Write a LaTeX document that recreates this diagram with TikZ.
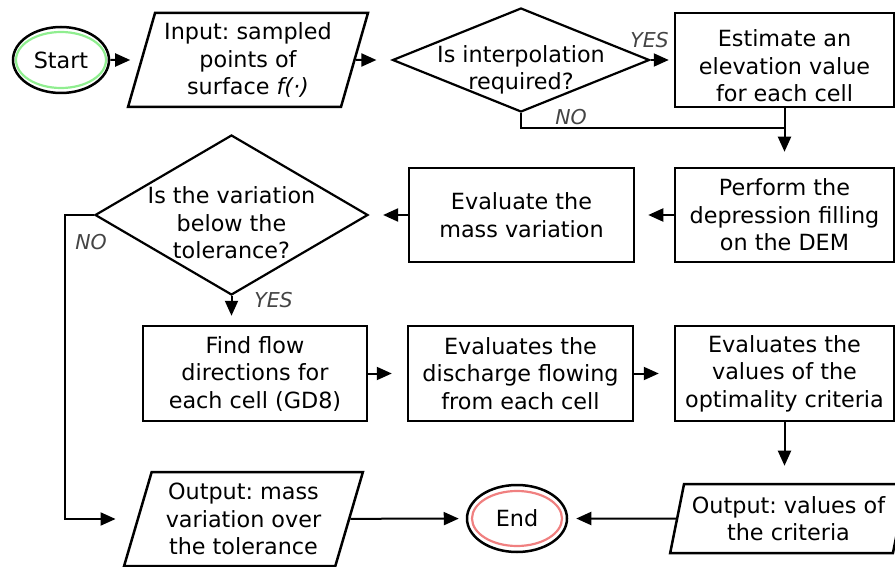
\documentclass[tikz,border=0pt]{standalone}
\usepackage{fontspec}
\setmainfont{DejaVu Sans}
\usetikzlibrary{shapes.geometric,arrows.meta}

\definecolor{startgreen}{RGB}{144,238,144}
\definecolor{endred}{RGB}{240,128,128}
\definecolor{anscol}{RGB}{68,68,68}

\tikzset{
  txt/.style={font=\fontsize{22.3pt}{27.5pt}\selectfont\frenchspacing, align=center, inner sep=0pt},
  process/.style={txt, draw, line width=2.5pt, rectangle, minimum width=219pt, minimum height=94pt},
  io/.style={txt, draw, line width=2.5pt, trapezium, trapezium left angle=72, trapezium right angle=108, trapezium stretches=true, minimum height=94pt},
  decision/.style={txt, draw, line width=2.2pt, diamond, inner xsep=-50pt, inner ysep=-10pt},
  terminal/.style={txt, draw, line width=2.5pt, ellipse, minimum width=96pt, minimum height=66pt},
  ring/.style={line width=2.2pt},
  answer/.style={font=\fontsize{20.5pt}{24pt}\selectfont\itshape, text=anscol, inner sep=0pt},
  flow/.style={-{Triangle[length=15pt,width=13pt]}, line width=2pt},
}

\begin{document}
\begin{tikzpicture}[x=1pt,y=-1pt]
\useasboundingbox (0,0) rectangle (895,567);

% first row
\node[terminal] (start) at (61,60) {Start};
\draw[ring, startgreen] (start.center) ellipse [x radius=45pt, y radius=28pt];
\node[io, minimum width=240pt] (input) at (248,60) {Input: sampled\\points of\\surface \textit{f(·)}};
\node[decision, shape aspect=2.5, minimum width=257pt, minimum height=104pt] (interp) at (521,60) {\rule{0pt}{37pt}Is interpolation\\required?};
\node[process] (estimate) at (784.5,60) {\rule{0pt}{29pt}Estimate an\\elevation value\\for each cell};

% second row
\node[process] (perform) at (784.5,215) {Perform the\\depression filling\\on the DEM};
\node[process, minimum width=225pt] (massvar) at (521.5,215) {Evaluate the\\mass variation};
\node[decision, shape aspect=1.7, minimum width=273pt, minimum height=160pt] (tol) at (231.5,215) {\rule{0pt}{33pt}Is the variation\\below the\\tolerance?};

% third row
\node[process, minimum width=224pt, minimum height=95pt] (findflow) at (255,373.5) {Find flow\\directions for\\each cell (GD8)};
\node[process, minimum width=225pt, minimum height=95pt] (discharge) at (520.5,373.5) {Evaluates the\\discharge flowing\\from each cell};
\node[process, minimum height=95pt] (optim) at (784.5,373.5) {Evaluates the\\values of the\\optimality criteria};

% last row
\node[io, minimum width=239pt] (outmass) at (243.5,519) {Output: mass\\variation over\\the tolerance};
\node[terminal, minimum width=100pt, minimum height=67pt] (finish) at (517,518.5) {End};
\draw[ring, endred] (finish.center) ellipse [x radius=45pt, y radius=27.5pt];
\node[io, trapezium left angle=74, trapezium right angle=106, minimum width=237pt, minimum height=69pt] (outcrit) at (788.5,518.5) {Output: values of\\the criteria};

% connectors
\draw[flow, shorten >=10pt] (start) -- (input);
\draw[flow, shorten >=15pt] (input) -- (interp);
\draw[flow, shorten >=5pt] (interp) -- (estimate);
\coordinate (nojoin) at (784.5,128);
\draw[line width=2pt] (interp.south) |- (nojoin);
\draw[flow, shorten >=15pt] (estimate) -- (perform);
\draw[flow, shorten >=13pt] (perform) -- (massvar);
\draw[flow, shorten >=14pt] (massvar) -- (tol);
\draw[flow, shorten >=9pt] (tol.south) -- (tol.south |- findflow.north);
\draw[flow, shorten >=21pt] (tol.west) -- ++(-29,0) |- (outmass);
\draw[flow, shorten >=15pt] (findflow) -- (discharge);
\draw[flow, shorten >=15pt] (discharge) -- (optim);
\draw[flow, shorten >=17pt] (optim.south) -- (optim.south |- outcrit.north);
\draw[flow, shorten >=8pt] (outcrit) -- (finish);
\draw[flow, shorten >=7pt] (outmass) -- (finish);

\node[answer] (yes1) at (649.5,40.5) {YES};
\node[answer] (no1) at (571,117) {NO};
\node[answer] (yes2) at (273.5,300.5) {YES};
\node[answer] (no2) at (91,242) {NO};
\end{tikzpicture}
\end{document}
